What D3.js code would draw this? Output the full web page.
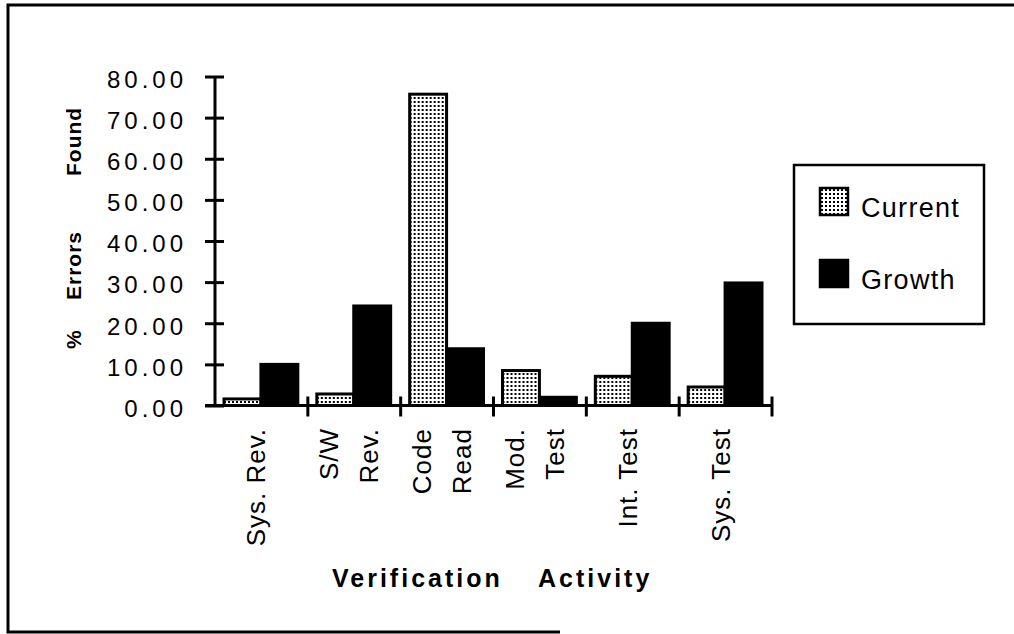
<!DOCTYPE html>
<html>
<head>
<meta charset="utf-8">
<script src="https://cdn.jsdelivr.net/npm/d3@7"></script>
<style>
  html, body { margin: 0; padding: 0; background: #fff; }
  svg { display: block; font-family: "Liberation Sans", Arial, Helvetica, sans-serif; }
</style>
</head>
<body>
<svg id="chart" width="1014" height="634"></svg>
<script>
// Share of errors found per verification activity
const categories = ["Sys. Rev.", "S/W Rev.", "Code Read", "Mod. Test", "Int. Test", "Sys. Test"];
const categoryLines = [["Sys. Rev."], ["S/W", "Rev."], ["Code", "Read"], ["Mod.", "Test"], ["Int. Test"], ["Sys. Test"]];
const seriesNames = ["Current", "Growth"];
const currentValues = [1.6, 2.8, 75.7, 8.5, 7.1, 4.5];
const growthValues = [10.0, 24.2, 13.8, 2.0, 20.0, 29.8];
const yTicks = [0, 10, 20, 30, 40, 50, 60, 70, 80];

const svg = d3.select("#chart");

// dotted fill used for the "Current" series
const defs = svg.append("defs");
const pat = defs.append("pattern")
  .attr("id", "dots").attr("patternUnits", "userSpaceOnUse")
  .attr("width", 4).attr("height", 4);
pat.append("rect").attr("width", 4).attr("height", 4).attr("fill", "#fff");
pat.append("rect").attr("x", 1).attr("y", 1).attr("width", 2).attr("height", 2).attr("fill", "#000");

// frame around the figure
svg.append("path")
  .attr("d", "M1014,5 L8,5 L8,632 L560,632")
  .attr("fill", "none").attr("stroke", "#000").attr("stroke-width", 3);

const x = d3.scaleBand().domain(categories).range([215, 772]);
const sub = d3.scaleBand().domain(seriesNames).range([9, x.bandwidth() - 10]);
const y = d3.scaleLinear().domain([0, 80]).range([405.5, 76.5]);

const rows = categories.map((c, i) => ({ cat: c, values: [currentValues[i], growthValues[i]] }));

// bars
const groups = svg.append("g").selectAll("g").data(rows).join("g")
  .attr("transform", d => `translate(${x(d.cat)},0)`);

groups.selectAll("rect")
  .data(d => seriesNames.map((s, k) => ({ s, v: d.values[k] })))
  .join("rect")
  .attr("x", d => sub(d.s))
  .attr("width", sub.bandwidth())
  .attr("y", d => y(d.v))
  .attr("height", d => y(0) - y(d.v))
  .attr("fill", d => d.s === "Current" ? "url(#dots)" : "#000")
  .attr("stroke", "#000")
  .attr("stroke-width", 3);

// y axis
const yAxis = svg.append("g")
  .attr("transform", "translate(215,0)")
  .call(d3.axisLeft(y).tickValues(yTicks).tickFormat(d3.format(".2f")).tickSize(10).tickPadding(16));
yAxis.select(".domain").attr("stroke-width", 3).attr("d", `M0,${y(80)}V${y(0)}`);
yAxis.selectAll(".tick line").attr("x1", -10).attr("x2", 9).attr("stroke-width", 3);
yAxis.selectAll(".tick text")
  .attr("font-size", 24).attr("letter-spacing", 4).attr("fill", "#000")
  .attr("x", -28)
  .attr("dy", "0.45em");

// x axis line and category boundary ticks
const xAxis = svg.append("g");
xAxis.append("line")
  .attr("x1", 205).attr("x2", x.range()[1])
  .attr("y1", y(0)).attr("y2", y(0))
  .attr("stroke", "#000").attr("stroke-width", 3);
const bounds = categories.slice(1).map(c => x(c)).concat([x.range()[1]]);
xAxis.selectAll("line.b").data(bounds).join("line").attr("class", "b")
  .attr("x1", d => d).attr("x2", d => d)
  .attr("y1", y(0) - 9).attr("y2", y(0) + 11)
  .attr("stroke", "#000").attr("stroke-width", 3);

// category labels, rotated
categoryLines.forEach((lines, i) => {
  const cx = x(categories[i]) + x.bandwidth() / 2;
  lines.forEach((t, j) => {
    const bx = cx + 4 + (j - (lines.length - 1) / 2) * 40;
    svg.append("text")
      .attr("transform", `translate(${bx},428) rotate(-90)`)
      .attr("text-anchor", "end")
      .attr("font-size", 26).attr("letter-spacing", 1)
      .text(t);
  });
});

// x axis title
const xt = svg.append("text")
  .attr("y", 587).attr("font-size", 25).attr("font-weight", "bold").attr("letter-spacing", 3);
xt.append("tspan").attr("x", 332).text("Verification");
xt.append("tspan").attr("x", 538).text("Activity");

// y axis title
const yt = svg.append("text")
  .attr("transform", "translate(81,0) rotate(-90)")
  .attr("font-size", 21).attr("font-weight", "bold").attr("letter-spacing", 1);
yt.append("tspan").attr("x", -349).text("%");
yt.append("tspan").attr("x", -300).text("Errors");
yt.append("tspan").attr("x", -176).text("Found");

// legend
const lg = svg.append("g");
lg.append("rect").attr("x", 794).attr("y", 165).attr("width", 190).attr("height", 159)
  .attr("fill", "#fff").attr("stroke", "#000").attr("stroke-width", 2.5);
const items = lg.selectAll("g").data(seriesNames).join("g")
  .attr("transform", (d, i) => `translate(0,${i * 72})`);
items.append("rect").attr("x", 820).attr("y", 188).attr("width", 28).attr("height", 27)
  .attr("fill", d => d === "Current" ? "url(#dots)" : "#000")
  .attr("stroke", "#000").attr("stroke-width", 2.5);
items.append("text").attr("x", 861).attr("y", 217)
  .attr("font-size", 27).attr("letter-spacing", 1.3)
  .text(d => d);
</script>
</body>
</html>
